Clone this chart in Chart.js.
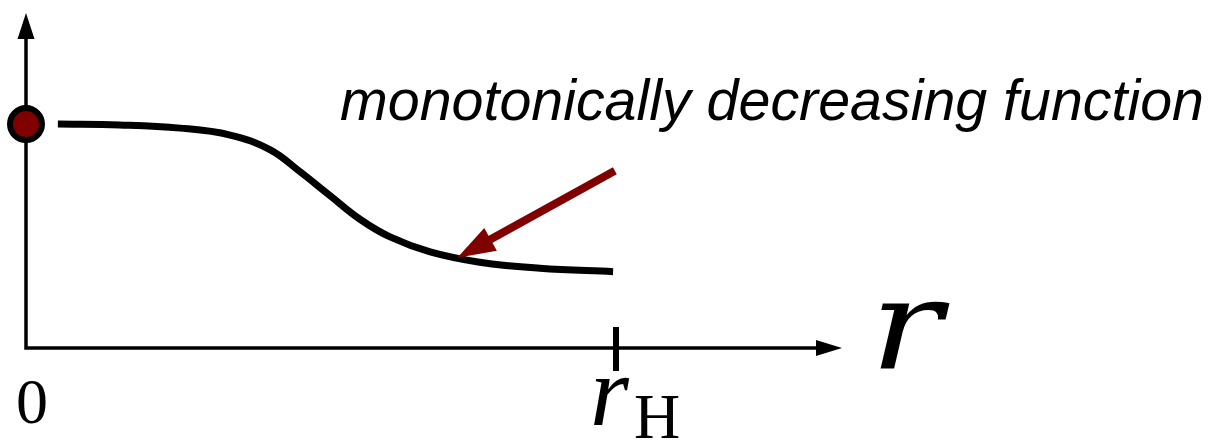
<!DOCTYPE html>
<html>
<head>
<meta charset="utf-8">
<script src="https://cdn.jsdelivr.net/npm/chart.js@4/dist/chart.umd.min.js"></script>
<style>
  html, body { margin: 0; padding: 0; background: #fff; }
  #wrap { width: 1232px; height: 440px; position: relative; }
</style>
</head>
<body>
<div id="wrap"><canvas id="chart-monotone"></canvas></div>
<script>
// curve: r (rH = 1) and f(r)
const rValues = [0.054, 0.159, 0.261, 0.346, 0.414, 0.464, 0.515, 0.566, 0.617, 0.685, 0.769, 0.871, 0.995];
const fValues = [1.000, 0.996, 0.982, 0.951, 0.885, 0.788, 0.681, 0.575, 0.496, 0.429, 0.383, 0.356, 0.341];
const startPoint = [0, 1.0];
const tickR = [0, 1];
const tickLabels = ["0", "rH"];
const axisLabel = "r";
const noteText = "monotonically decreasing function";
const arrowFrom = [0.998, 0.792];
const arrowTo = [0.731, 0.403];

const darkRed = "#800000";

// axes with arrow heads, tick, labels and the annotation arrow
const sketchPlugin = {
    id: "sketch",
    beforeDatasetsDraw(chart) {
        const ctx = chart.ctx;
        const xs = chart.scales.x, ys = chart.scales.y;
        const x0 = xs.getPixelForValue(0), y0 = ys.getPixelForValue(0);
        const xEnd = xs.getPixelForValue(xs.max), yTop = ys.getPixelForValue(ys.max) - 9;
        ctx.save();
        ctx.strokeStyle = "#000";
        ctx.fillStyle = "#000";
        ctx.lineWidth = 3.5;
        ctx.lineCap = "square";
        ctx.beginPath();
        ctx.moveTo(x0, yTop + 20);
        ctx.lineTo(x0, y0);
        ctx.lineTo(xEnd - 20, y0);
        ctx.stroke();
        // arrow heads
        ctx.beginPath();
        ctx.moveTo(x0, yTop);
        ctx.lineTo(x0 - 8.5, yTop + 26);
        ctx.lineTo(x0 + 8.5, yTop + 26);
        ctx.closePath();
        ctx.fill();
        ctx.beginPath();
        ctx.moveTo(xEnd, y0);
        ctx.lineTo(xEnd - 26, y0 - 8);
        ctx.lineTo(xEnd - 26, y0 + 8);
        ctx.closePath();
        ctx.fill();
        // tick at rH
        const xt = xs.getPixelForValue(tickR[1]);
        ctx.lineWidth = 6;
        ctx.lineCap = "butt";
        ctx.beginPath();
        ctx.moveTo(xt, y0 - 21);
        ctx.lineTo(xt, y0 + 23);
        ctx.stroke();
        ctx.restore();
    },
    afterDatasetsDraw(chart) {
        const ctx = chart.ctx;
        const xs = chart.scales.x, ys = chart.scales.y;
        const x0 = xs.getPixelForValue(0), y0 = ys.getPixelForValue(0);
        const xEnd = xs.getPixelForValue(xs.max);
        ctx.save();
        ctx.fillStyle = "#000";
        ctx.textBaseline = "alphabetic";
        ctx.textAlign = "left";

        // "0" under origin
        ctx.font = "64px 'Liberation Serif'";
        ctx.fillText(tickLabels[0], x0 - 10, y0 + 75);

        // r_H under tick
        const xt = xs.getPixelForValue(tickR[1]);
        ctx.font = "italic 100px 'Liberation Serif'";
        ctx.fillText(tickLabels[1][0], xt - 26, y0 + 77);
        ctx.font = "64px 'Liberation Serif'";
        ctx.fillText(tickLabels[1].slice(1), xt + 18, y0 + 90);

        // big axis label r
        ctx.font = "italic 125px 'DejaVu Serif'";
        const wr = ctx.measureText(axisLabel).width;
        ctx.save();
        ctx.translate(xEnd + 28, y0 + 21);
        ctx.scale(72 / wr, 1);
        ctx.fillText(axisLabel, 0, 0);
        ctx.restore();

        // annotation text
        ctx.font = "italic 57px 'Liberation Sans'";
        const wn = ctx.measureText(noteText).width;
        ctx.save();
        ctx.translate(340, 120);
        ctx.scale(864 / wn, 1);
        ctx.fillText(noteText, 0, 0);
        ctx.restore();

        // dark red arrow pointing at the curve
        const ax = xs.getPixelForValue(arrowFrom[0]), ay = ys.getPixelForValue(arrowFrom[1]);
        const bx = xs.getPixelForValue(arrowTo[0]), by = ys.getPixelForValue(arrowTo[1]);
        const ang = Math.atan2(by - ay, bx - ax);
        const headLen = 38, headW = 13;
        const hx = bx - headLen * Math.cos(ang), hy = by - headLen * Math.sin(ang);
        ctx.strokeStyle = darkRed;
        ctx.fillStyle = darkRed;
        ctx.lineWidth = 8;
        ctx.beginPath();
        ctx.moveTo(ax, ay);
        ctx.lineTo(hx + 4 * Math.cos(ang), hy + 4 * Math.sin(ang));
        ctx.stroke();
        ctx.beginPath();
        ctx.moveTo(bx, by);
        ctx.lineTo(hx + headW * Math.sin(ang), hy - headW * Math.cos(ang));
        ctx.lineTo(hx - headW * Math.sin(ang), hy + headW * Math.cos(ang));
        ctx.closePath();
        ctx.fill();
        ctx.restore();
    }
};

const curveData = rValues.map((r, i) => ({ x: r, y: fValues[i] }));

const configMonotone = {
    type: "line",
    data: {
        datasets: [
            {
                label: "f(r)",
                data: curveData,
                borderColor: "#000",
                borderWidth: 7,
                borderCapStyle: "butt",
                pointRadius: 0,
                tension: 0.4,
                fill: false,
                clip: false,
                order: 2,
            },
            {
                label: "f(0)",
                data: [{ x: startPoint[0], y: startPoint[1] }],
                showLine: false,
                pointRadius: 16,
                pointBorderWidth: 6,
                pointBackgroundColor: darkRed,
                pointBorderColor: "#000",
                clip: false,
                order: 1,
            },
        ],
    },
    options: {
        responsive: true,
        maintainAspectRatio: false,
        animation: false,
        layout: {
            // top ends up at 19 anyway (point overflow)
            padding: { left: 26, right: 390, top: 19, bottom: 92 },
        },
        scales: {
            x: { type: "linear", min: 0, max: 1.383, display: false },
            y: { type: "linear", min: 0, max: 1.456, display: false },
        },
        plugins: {
            legend: { display: false },
            tooltip: { enabled: false },
        },
    },
    plugins: [sketchPlugin],
};

new Chart(document.getElementById("chart-monotone"), configMonotone);
</script>
</body>
</html>
